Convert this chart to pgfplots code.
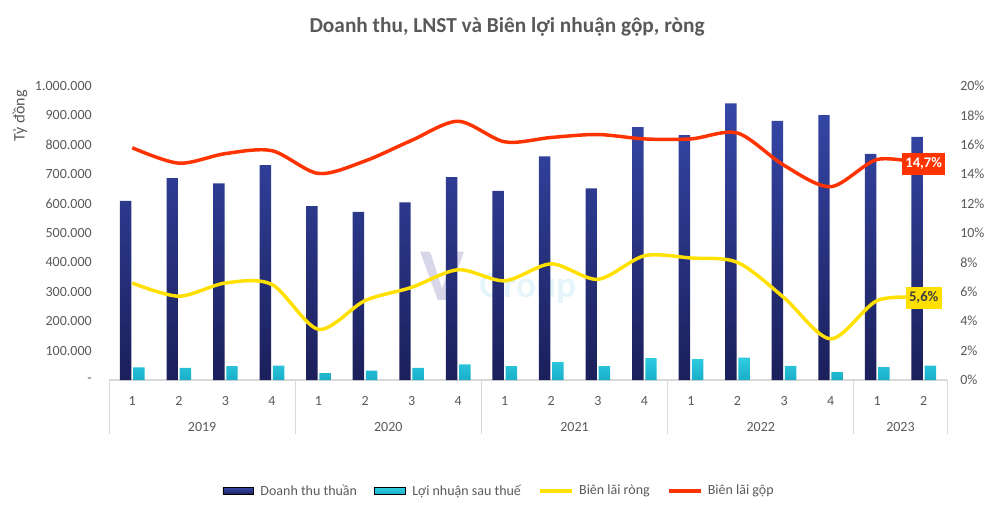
\documentclass[border=0pt]{standalone}
\usepackage{pgfplots}
\pgfplotsset{compat=1.18}
\usepackage{pgfplotstable}
\usepackage{fontspec}
\setmainfont{Carlito}
\definecolor{txt}{HTML}{595959}
\definecolor{navyT}{HTML}{3547A8}
\definecolor{navyB}{HTML}{1B1F5A}
\definecolor{cyanT}{HTML}{2ECCE2}
\definecolor{cyanB}{HTML}{1AAEC8}
\definecolor{redl}{HTML}{FF3300}
\definecolor{yell}{HTML}{FFE000}
\definecolor{axisgray}{HTML}{D9D9D9}
\definecolor{wmV}{RGB}{205,205,228}
\definecolor{wmG}{RGB}{222,243,249}
\definecolor{darktxt}{RGB}{64,64,64}

\pgfplotstableread{
q dt ln
0 609000 43000
1 687000 41000
2 669000 47000
3 731000 49000
4 591000 23000
5 572000 32000
6 604000 41000
7 690000 53000
8 643000 47000
9 761000 61000
10 652000 47000
11 860000 74000
12 833000 71000
13 941000 76000
14 881000 48000
15 901000 27000
16 769000 44000
17 827000 49000
}\bars

\pgfplotstableread{
q gop rong
0 15.8 6.6
1 14.75 5.7
2 15.4 6.6
3 15.6 6.5
4 14.05 3.45
5 14.9 5.4
6 16.3 6.3
7 17.6 7.5
8 16.2 6.75
9 16.5 7.9
10 16.7 6.85
11 16.4 8.45
12 16.4 8.3
13 16.8 8.0
14 14.6 5.6
15 13.15 2.8
16 15.0 5.4
17 14.7 5.6
}\margins

\begin{document}
\begin{tikzpicture}
\useasboundingbox (0pt,0pt) rectangle (750pt,396.75pt);
\node[font=\bfseries\fontsize{16}{19}\selectfont, text=txt] at (380.25pt,376.5pt) {Doanh thu, LNST và Biên lợi nhuận gộp, ròng};

\begin{axis}[
  at={(81.75pt,111.75pt)}, anchor=south west,
  scale only axis, width=628.5pt, height=220.5pt,
  xmin=-0.5, xmax=17.5, ymin=0, ymax=1000000,
  axis x line*=bottom, axis y line*=left,
  y axis line style={draw=none},
  x axis line style={draw=axisgray, line width=0.75pt},
  tick style={draw=none},
  major tick length=0pt,
  scaled y ticks=false,
  ytick={0,100000,200000,300000,400000,500000,600000,700000,800000,900000,1000000},
  yticklabels={-,100.000,200.000,300.000,400.000,500.000,600.000,700.000,800.000,900.000,1.000.000},
  yticklabel style={anchor=east, inner sep=0pt, xshift=-12.75pt},
  xtick={0,...,17},
  xticklabels={1,2,3,4,1,2,3,4,1,2,3,4,1,2,3,4,1,2},
  xticklabel style={anchor=center, inner sep=0pt, yshift=-15.75pt},
  ticklabel style={font=\fontsize{10.5}{12}\selectfont, text=txt},
  ybar=1.3pt, bar width=8.6pt,
  clip=false,
]
\node[font=\bfseries\fontsize{56}{56}\selectfont, text=wmV, opacity=0.8] at (axis cs:6.67,353000) {V};
\node[font=\bfseries\fontsize{28}{28}\selectfont, text=wmG, anchor=base west, opacity=0.8] at (axis cs:7.36,282000) {Group};
\addplot[draw=none, top color=navyT, bottom color=navyB] table[x=q, y=dt] {\bars};
\addplot[draw=none, top color=cyanT, bottom color=cyanB] table[x=q, y=ln] {\bars};
\foreach \s in {-0.5,3.5,7.5,11.5,15.5,17.5} {
  \edef\temp{\noexpand\draw[axisgray, line width=0.75pt] (axis cs:\s,0) -- ++(0pt,-40.5pt);}
  \temp
}
\foreach \c/\yr in {1.5/2019,5.5/2020,9.5/2021,13.5/2022,16.5/2023} {
  \edef\temp{\noexpand\node[font=\noexpand\fontsize{10.5}{12}\noexpand\selectfont, text=txt] at (axis cs:\c,0) [yshift=-35.5pt] {\yr};}
  \temp
}
\node[rotate=90, font=\fontsize{12}{14}\selectfont, text=txt] at (rel axis cs:0,0.898) [yshift=66.75pt] {Tỷ đồng};
\end{axis}

\begin{axis}[
  at={(81.75pt,111.75pt)}, anchor=south west,
  scale only axis, width=628.5pt, height=220.5pt,
  xmin=-0.5, xmax=17.5, ymin=0, ymax=20,
  axis x line=none, axis y line*=right,
  y axis line style={draw=none},
  tick style={draw=none},
  major tick length=0pt,
  ytick={0,2,...,20},
  yticklabels={0\%,2\%,4\%,6\%,8\%,10\%,12\%,14\%,16\%,18\%,20\%},
  yticklabel style={anchor=west, inner sep=0pt, xshift=9.75pt, font=\fontsize{10.5}{12}\selectfont, text=txt},
  clip=false,
  legend columns=4,
  legend style={at={(0.466,-0.3776)}, anchor=center, draw=none, fill=none,
    font=\fontsize{10.5}{12}\selectfont, text=txt,
    /tikz/every even column/.append style={column sep=11pt}},
]
\addlegendimage{legend image code/.code={\fill[top color=navyT, bottom color=navyB] (0pt,-2.6pt) rectangle (23pt,2.6pt); \path (26pt,0pt);}}
\addlegendentry{Doanh thu thuần}
\addlegendimage{legend image code/.code={\fill[top color=cyanT, bottom color=cyanB] (0pt,-2.6pt) rectangle (23pt,2.6pt); \path (26pt,0pt);}}
\addlegendentry{Lợi nhuận sau thuế}
\addplot[yell, line width=2.6pt, smooth, tension=0.5, legend image code/.code={\draw[yell, line width=2.6pt] (0pt,0pt) -- (24pt,0pt); \path (26pt,0pt);}] table[x=q, y=rong] {\margins};
\addlegendentry{Biên lãi ròng}
\addplot[redl, line width=2.6pt, smooth, tension=0.5, legend image code/.code={\draw[redl, line width=2.6pt] (0pt,0pt) -- (24pt,0pt); \path (26pt,0pt);}] table[x=q, y=gop] {\margins};
\addlegendentry{Biên lãi gộp}
\node[fill=redl, text=white, font=\bfseries\fontsize{11}{13}\selectfont, inner sep=2.5pt, minimum height=16.5pt] at (axis cs:17,14.7) {14,7\%};
\node[fill=yell, text=darktxt, font=\bfseries\fontsize{11}{13}\selectfont, inner sep=2.5pt, minimum height=16.5pt] at (axis cs:17,5.6) {5,6\%};
\end{axis}
\end{tikzpicture}
\end{document}
